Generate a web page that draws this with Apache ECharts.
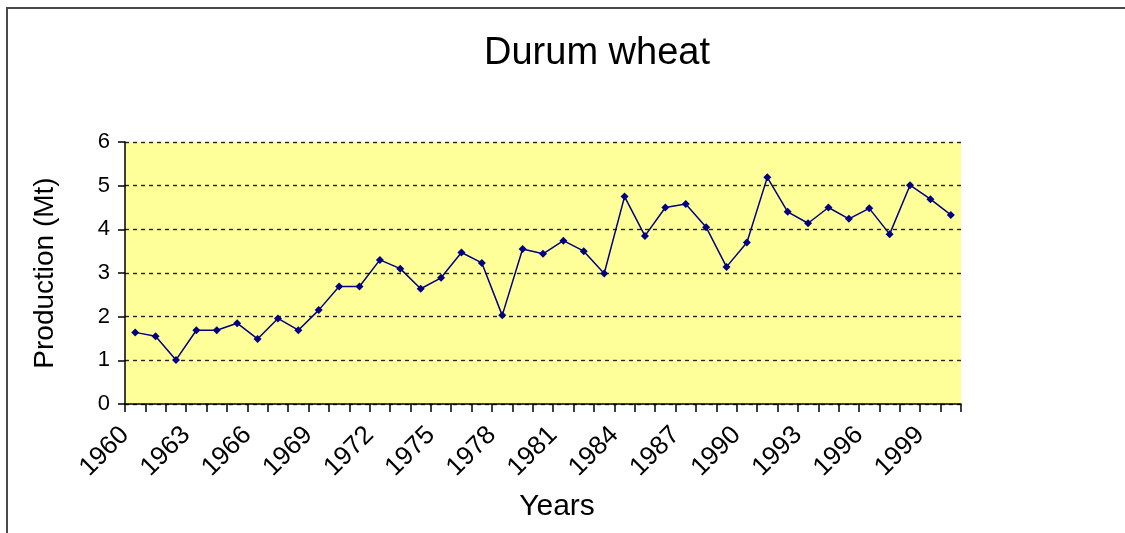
<!DOCTYPE html>
<html>
<head>
<meta charset="utf-8">
<script src="https://cdn.jsdelivr.net/npm/echarts@6/dist/echarts.min.js"></script>
<style>
  html, body { margin: 0; padding: 0; background: #fff; }
  #chart { width: 1125px; height: 533px; }
</style>
</head>
<body>
<div id="chart"></div>
<script>
// years with a data point
const years = [
  '1960', '1961', '1962', '1963', '1964', '1965', '1966', '1967', '1968', '1969',
  '1970', '1971', '1972', '1973', '1974', '1975', '1976', '1977', '1978', '1979',
  '1980', '1981', '1982', '1983', '1984', '1985', '1986', '1987', '1988', '1989',
  '1990', '1991', '1992', '1993', '1994', '1995', '1996', '1997', '1998', '1999',
  '2000',
];
// tick positions (category boundaries), labelled every third year
const tickYears = years.concat(['2001']);
// production, Mt
const production = [
  1.64, 1.55, 1.01, 1.69, 1.69, 1.85, 1.49, 1.96, 1.69, 2.15,
  2.69, 2.69, 3.30, 3.10, 2.64, 2.89, 3.47, 3.23, 2.03, 3.55,
  3.44, 3.74, 3.50, 2.99, 4.75, 3.85, 4.50, 4.58, 4.05, 3.14,
  3.70, 5.19, 4.40, 4.14, 4.50, 4.24, 4.48, 3.89, 5.01, 4.69,
  4.33,
];

const font = '"Liberation Sans", Arial, sans-serif';
const chart = echarts.init(document.getElementById('chart'));

const plotRect = { left: 125, right: 164, top: 142, bottom: 129 };

chart.setOption({
  animation: false,
  backgroundColor: '#fff',
  title: [
    {
      text: 'Durum wheat',
      left: 592,
      top: 30,
      textAlign: 'center',
      textStyle: { fontFamily: font, fontSize: 38, fontWeight: 'normal', color: '#000' },
    },
    {
      text: 'Years',
      left: 552,
      top: 487,
      textAlign: 'center',
      textStyle: { fontFamily: font, fontSize: 30, fontWeight: 'normal', color: '#000' },
    },
  ],
  graphic: [
    {
      type: 'rect',
      shape: { x: 7, y: 8, width: 1300, height: 800 },
      style: { fill: 'none', stroke: '#4a4a4a', lineWidth: 2 },
      silent: true,
    },
  ],
  grid: [
    Object.assign({ show: true, backgroundColor: '#FFFF99', borderWidth: 0 }, plotRect),
    Object.assign({ show: false }, plotRect),
  ],
  xAxis: [
    {
      // data axis
      type: 'category',
      gridIndex: 0,
      data: years,
      boundaryGap: true,
      axisLine: { lineStyle: { color: '#000', width: 1.5 } },
      axisTick: { show: true, interval: 0, length: 8, lineStyle: { color: '#000', width: 1.5 } },
      axisLabel: { show: false },
      splitLine: { show: false },
    },
    {
      // label axis, labels sit on the tick marks
      type: 'category',
      gridIndex: 1,
      data: tickYears,
      boundaryGap: false,
      axisLine: { show: false },
      axisTick: { show: false },
      axisLabel: {
        interval: 2,
        rotate: 45,
        margin: 27,
        fontFamily: font,
        fontSize: 26,
        color: '#000',
      },
      splitLine: { show: false },
    },
  ],
  yAxis: [
    {
      type: 'value',
      gridIndex: 0,
      min: 0,
      max: 6,
      interval: 1,
      name: 'Production (Mt)',
      nameLocation: 'middle',
      nameGap: 66,
      nameTextStyle: { fontFamily: font, fontSize: 28, color: '#000' },
      axisLine: { show: true, lineStyle: { color: '#000', width: 1.5 } },
      axisTick: { show: true, length: 7, lineStyle: { color: '#000', width: 1.5 } },
      axisLabel: { fontFamily: font, fontSize: 22, color: '#000', margin: 15 },
      splitLine: { show: true, lineStyle: { color: '#222', width: 1.4, type: [4, 4] } },
    },
    {
      type: 'value',
      gridIndex: 1,
      min: 0,
      max: 6,
      show: false,
    },
  ],
  series: [
    {
      type: 'line',
      xAxisIndex: 0,
      yAxisIndex: 0,
      data: production,
      symbol: 'diamond',
      symbolSize: 8,
      lineStyle: { color: '#000080', width: 1.5 },
      itemStyle: { color: '#000080' },
    },
  ],
});
</script>
</body>
</html>
